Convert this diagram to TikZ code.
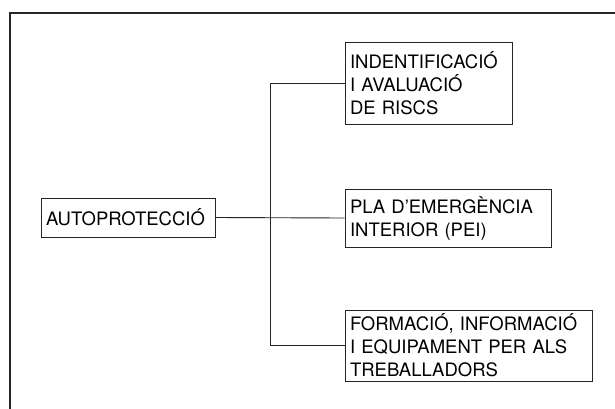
\documentclass[tikz,border=0pt]{standalone}
\usepackage{fontspec}
\setmainfont{TeX Gyre Heros}
\begin{document}
\begin{tikzpicture}[x=1pt,y=-1pt,
  boxstyle/.style={draw=black!85, line width=0.9pt, rectangle, inner xsep=5pt, inner ysep=0pt,
    align=left, font=\fontsize{18.5}{23}\selectfont, anchor=center},
  linkstyle/.style={draw=black!85, line width=0.9pt}]
\useasboundingbox (0,0) rectangle (615,408);
\fill[white] (0,0) rectangle (615,408);
% outer frame (right and bottom edges lie outside the picture)
\draw[line width=1.6pt, black!85] (10,410) -- (10,13) -- (617,13);
% nodes
\node[boxstyle, minimum width=174pt, minimum height=39pt, text width=164pt] (auto) at (128,217.5) {AUTOPROTECCIÓ};
\node[boxstyle, minimum width=167pt, minimum height=82pt, text width=157pt] (risc) at (428.5,83) {INDENTIFICACIÓ\\I AVALUACIÓ\\DE RISCS};
\node[boxstyle, minimum width=206pt, minimum height=58pt, text width=196pt] (pei) at (448,218) {PLA D’EMERGÈNCIA\\INTERIOR (PEI)};
\node[boxstyle, minimum width=247pt, minimum height=71pt, text width=237pt] (form) at (468.5,345.5) {FORMACIÓ, INFORMACIÓ\\I EQUIPAMENT PER ALS\\TREBALLADORS};
% connectors
\coordinate (bus) at (270,0);
\draw[linkstyle] (auto.east) -- (pei.west);
\draw[linkstyle] (risc.west) -- (risc.west -| bus) -- (form.west -| bus) -- (form.west);
\end{tikzpicture}
\end{document}
